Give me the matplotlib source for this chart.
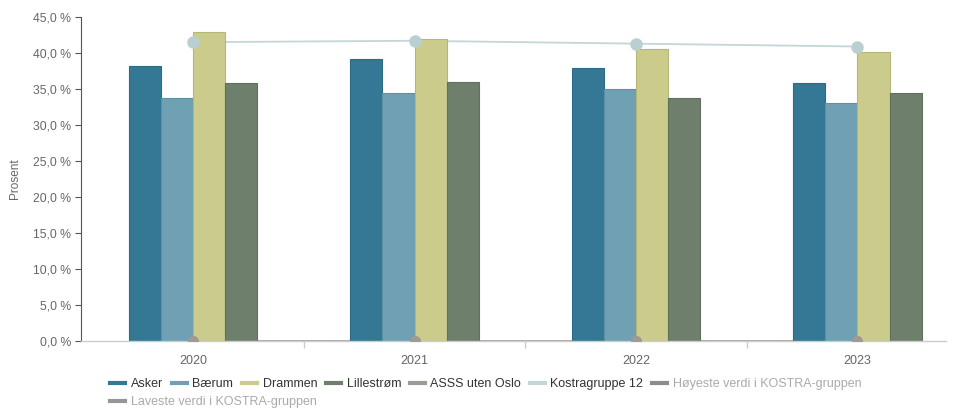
import matplotlib
matplotlib.use("Agg")
import matplotlib.pyplot as plt
from matplotlib.lines import Line2D
import numpy as np

plt.rcParams['font.family'] = ['Liberation Sans', 'DejaVu Sans']

years = ["2020", "2021", "2022", "2023"]
asker = [38.2, 39.1, 37.9, 35.8]
baerum = [33.8, 34.4, 35.0, 33.1]
drammen = [42.9, 41.9, 40.5, 40.1]
lillestrom = [35.8, 36.0, 33.8, 34.5]
asss = [0.0, 0.0, 0.0, 0.0]
kostra12 = [41.5, 41.7, 41.3, 40.9]
yticks = [0, 5, 10, 15, 20, 25, 30, 35, 40, 45]

bar_series = [
    ("Asker", asker, "#347896", "#2d6a85"),
    ("Bærum", baerum, "#6fa0b4", "#5f8fa2"),
    ("Drammen", drammen, "#cbcc8c", "#b5b67a"),
    ("Lillestrøm", lillestrom, "#6e806c", "#5f705d"),
]

W, H = 963, 409
fig = plt.figure(figsize=(W / 100, H / 100), dpi=100)
ax = fig.add_axes([81 / W, 1 - 341 / H, (946 - 81) / W, (341 - 17) / H])

x = np.arange(len(years))
bw = 0.145
offsets = [-1.5, -0.5, 0.5, 1.5]
for (name, vals, fc, ec), off in zip(bar_series, offsets):
    ax.bar(x + off * bw, vals, width=bw, color=fc, edgecolor=ec, linewidth=0.8, zorder=2)

ax.plot(x, asss, color="#a09a94", lw=1.2, zorder=1)
ax.plot(x, asss, linestyle="none", marker="o", markersize=7, color="#a09a94", zorder=3)
ax.plot(x, kostra12, color="#c3d6d8", lw=1.3, zorder=1)
ax.plot(x, kostra12, linestyle="none", marker="o", markersize=8,
        markerfacecolor="#b9cfd2", markeredgecolor="#b9cfd2", zorder=4)

ax.set_xlim(-0.506, 3.40)
ax.set_ylim(0, 45)
ax.set_yticks(yticks)
ax.set_yticklabels([f"{v:.1f} %".replace(".", ",") for v in yticks])
ax.set_xticks(x)
ax.set_xticklabels(years)
ax.set_xticks([0.5, 1.5, 2.5], minor=True)

for s in ["top", "right"]:
    ax.spines[s].set_visible(False)
ax.spines["left"].set_color("#555555")
ax.spines["left"].set_linewidth(0.8)
ax.spines["bottom"].set_color("#cccccc")
ax.spines["bottom"].set_linewidth(1.0)

ax.tick_params(axis="y", colors="#555555", labelcolor="#666666", labelsize=8.8,
               length=4, width=0.8, pad=3)
ax.tick_params(axis="x", which="major", length=0, labelcolor="#666666",
               labelsize=9, pad=10)
ax.tick_params(axis="x", which="minor", length=5, color="#cccccc", width=1.0)

fig.text(15 / W, 1 - 179 / H, "Prosent", rotation=90, ha="center", va="center",
         fontsize=8.5, color="#666666")

legend_items = [
    ("Asker", "#347896", "#333333"),
    ("Bærum", "#6fa0b4", "#333333"),
    ("Drammen", "#cbcc8c", "#333333"),
    ("Lillestrøm", "#6e806c", "#333333"),
    ("ASSS uten Oslo", "#a09a94", "#333333"),
    ("Kostragruppe 12", "#c3d6d8", "#333333"),
    ("Høyeste verdi i KOSTRA-gruppen", "#8c8c8c", "#aaaaaa"),
]
handles = [Line2D([0], [0], color=c, lw=3) for _, c, _ in legend_items]
leg1 = fig.legend(handles, [n for n, _, _ in legend_items], loc="upper left",
                  bbox_to_anchor=(110 / W, 1 - 378 / H), ncol=7, frameon=False,
                  fontsize=9.0, handlelength=1.2, handletextpad=0.45,
                  columnspacing=0.7, borderaxespad=0, borderpad=0)
for t, (_, _, tc) in zip(leg1.get_texts(), legend_items):
    t.set_color(tc)

h2 = [Line2D([0], [0], color="#969696", lw=3)]
leg2 = fig.legend(h2, ["Laveste verdi i KOSTRA-gruppen"], loc="upper left",
                  bbox_to_anchor=(110 / W, 1 - 396 / H), ncol=1, frameon=False,
                  fontsize=9.0, handlelength=1.2, handletextpad=0.45,
                  borderaxespad=0, borderpad=0)
leg2.get_texts()[0].set_color("#aaaaaa")

fig.savefig("out.png", dpi=100)
